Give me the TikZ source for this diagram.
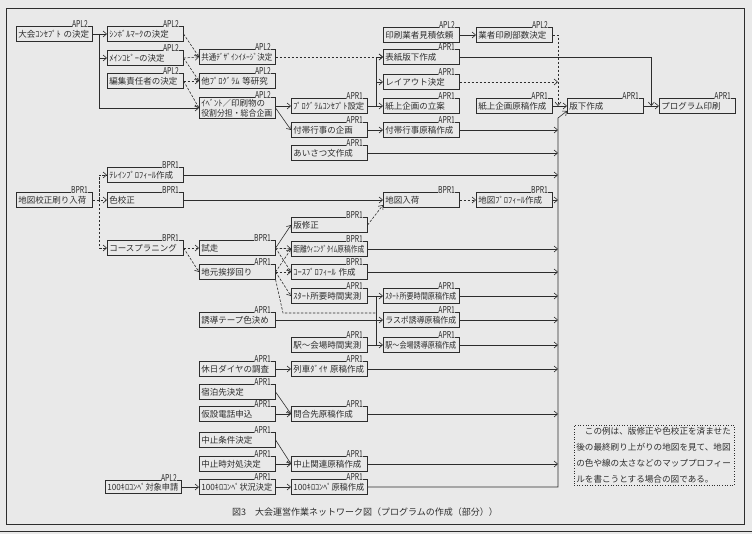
\documentclass[tikz,border=0pt]{standalone}
\usepackage{fontspec}
\setmainfont{Noto Sans CJK JP}
\usepackage{graphicx}
\usepackage{tikz}
\usetikzlibrary{arrows.meta}
\usetikzlibrary{calc}
\definecolor{bg}{RGB}{233,233,233}
\definecolor{ink}{RGB}{45,45,45}
\newsavebox\jobtext
\newcommand{\fitw}[1]{\sbox\jobtext{#1}\ifdim\wd\jobtext>71bp\pgfmathsetmacro\jobfac{71bp/\wd\jobtext}\scalebox{\jobfac}[1]{\usebox\jobtext}\else\usebox\jobtext\fi}

\begin{document}
\begin{tikzpicture}[x=1bp, y=-1bp, color=ink, line width=0.6bp,
    job/.style={draw, anchor=west, text width=72bp, align=left, inner xsep=2bp, inner ysep=1bp,
        minimum height=15bp, font=\fontsize{8.5bp}{9.5bp}\selectfont,
        label={[wk]north east:\scalebox{.72}[1]{#1}}},
    wk/.style={anchor=south east, xshift=-4bp, yshift=-1.8bp, fill=bg, inner sep=0.3bp,
        font=\fontsize{9.5bp}{9.5bp}\selectfont},
    arr/.style={-{Straight Barb[length=3.5bp,width=6bp]}},
    dep/.style={dash pattern=on 2.5bp off 1.5bp}]
    \useasboundingbox (0,0) rectangle (752,534);
    \fill[bg] (0,0) rectangle (752,534);
    \draw (6,8) rectangle (744,524);
    \draw[line width=0.8bp] (0,531) -- (752,531);

    % upper block: program planning
    \node[job=APL2] (concept) at (16,34) {\fitw{大会ｺﾝｾﾌﾟﾄ の決定}};
    \node[job=APL2] (symbol) at (107,34) {ｼﾝﾎﾞﾙﾏｰｸの決定};
    \node[job=APL2] (copy) at (107,58) {ﾒｲﾝｺﾋﾟｰの決定};
    \node[job=APL2] (editor) at (107,81) {編集責任者の決定};
    \node[job=APL2] (design) at (199,57) {\fitw{共通ﾃﾞｻﾞｲﾝｲﾒｰｼﾞ決定}};
    \node[job=APL2] (study) at (199,81) {他ﾌﾟﾛｸﾞﾗﾑ 等研究};
    \node[job=APL2, minimum height=21bp] (event) at (199,108) {ｲﾍﾞﾝﾄ／印刷物の\\\fitw{役割分担・総合企画}};
    \node[job=APR1] (pconcept) at (291,106) {\fitw{ﾌﾟﾛｸﾞﾗﾑｺﾝｾﾌﾟﾄ設定}};
    \node[job=APR1] (sideplan) at (291,130) {付帯行事の企画};
    \node[job=APR1] (greeting) at (291,153) {あいさつ文作成};
    \node[job=APL2] (quote) at (383,35) {印刷業者見積依頼};
    \node[job=APR1] (cover) at (383,57) {表紙版下作成};
    \node[job=APR1] (layout) at (383,82) {レイアウト決定};
    \node[job=APR1] (paperplan) at (383,106) {紙上企画の立案};
    \node[job=APR1] (sidetext) at (383,130) {付帯行事原稿作成};
    \node[job=APL2] (copies) at (476,35) {業者印刷部数決定};
    \node[job=APR1] (papertext) at (476,106) {紙上企画原稿作成};
    \node[job=APR1] (block) at (567,106) {版下作成};
    \node[job=APR1] (print) at (659,106) {プログラム印刷};

    % middle block: maps and course
    \node[job=BPR1] (proof) at (16,200) {地図校正刷り入荷};
    \node[job=BPR1] (terrain) at (107,175) {ﾃﾚｲﾝﾌﾟﾛﾌｨｰﾙ作成};
    \node[job=BPR1] (color) at (107,200) {色校正};
    \node[job=BPR1] (course) at (107,248) {コースプラニング};
    \node[job=BPR1] (trial) at (199,248) {試走};
    \node[job=APR1] (greet) at (199,272) {地元挨拶回り};
    \node[job=APR1] (tape) at (199,320) {誘導テープ色決め};
    \node[job=BPR1] (fix) at (291,225) {版修正};
    \node[job=BPR1] (wintime) at (291,249) {\fitw{距離ｳｨﾆﾝｸﾞﾀｲﾑ原稿作成}};
    \node[job=BPR1] (cprofile) at (291,272) {ｺｰｽﾌﾟﾛﾌｨｰﾙ 作成};
    \node[job=APR1] (startm) at (291,296) {\fitw{ｽﾀｰﾄ所要時間実測}};
    \node[job=APR1] (stationm) at (291,345) {\fitw{駅～会場時間実測}};
    \node[job=BPR1] (mapin) at (383,200) {地図入荷};
    \node[job=APR1] (startt) at (383,296) {\fitw{ｽﾀｰﾄ所要時間原稿作成}};
    \node[job=APR1] (lastt) at (383,320) {\fitw{ラスポ誘導原稿作成}};
    \node[job=APR1] (stationt) at (383,345) {\fitw{駅～会場誘導原稿作成}};
    \node[job=BPR1] (mapprof) at (476,200) {地図ﾌﾟﾛﾌｨｰﾙ作成};

    % lower block: information pages
    \node[job=APR1] (holiday) at (199,369) {休日ダイヤの調査};
    \node[job=APR1] (lodge) at (199,392) {宿泊先決定};
    \node[job=APR1] (phone) at (199,414) {仮設電話申込};
    \node[job=APR1] (stopcond) at (199,440) {中止条件決定};
    \node[job=APR1] (stopact) at (199,464) {中止時対処決定};
    \node[job=APL2, minimum height=13bp] (hkapply) at (105,487) {\fitw{100ｷﾛｺﾝﾍﾟ対象申請}};
    \node[job=APR1] (hkdecide) at (199,487) {\fitw{100ｷﾛｺﾝﾍﾟ状況決定}};
    \node[job=APR1] (train) at (291,369) {\fitw{列車ﾀﾞｲﾔ 原稿作成}};
    \node[job=APR1] (inquiry) at (291,414) {問合先原稿作成};
    \node[job=APR1] (stoptext) at (291,464) {中止関連原稿作成};
    \node[job=APR1] (hktext) at (291,487) {\fitw{100ｷﾛｺﾝﾍﾟ原稿作成}};

    \coordinate (cj) at (99,34);
    \coordinate (pj) at (376,106);
    \coordinate (bj) at (558,106);
    \coordinate (pj2) at ($(block.east)!.5!(print.west)$);
    \coordinate (bartop) at (558,118);
    \coordinate (mj) at (99,200);
    \coordinate (gj) at (283,313);
    \coordinate (sj) at (376,296);

    % upper connectors
    \draw[arr] (concept) -- (symbol);
    \draw[arr] (cj) |- (copy);
    \draw[arr] (cj) |- (event);
    \draw[dep,arr] (symbol.east) -- (design.west);
    \draw[dep,arr] (copy.east) -- (design.west);
    \draw[dep,arr] (copy.east) -- (study.west);
    \draw[dep,arr] (editor) -- (study);
    \draw[dep,arr] (editor.east) -- (event.west);
    \draw[dep,arr] (design) -- (cover);
    \draw[arr] (event.east |- pconcept.west) -- (pconcept.west);
    \draw[arr] (event.east) -- (sideplan.west);
    \draw[arr] (pconcept) -- (paperplan);
    \draw[arr] (pj) |- (layout);
    \draw[arr] (pj) |- (cover);
    \draw[arr] (sideplan) -- (sidetext);
    \draw[arr] (quote) -- (copies);
    \draw[dep,arr] (copies) -| (bj);
    \draw[dep,arr] (layout) -- (layout -| bj);
    \draw[arr] (papertext) -- (block);
    \draw[arr] (block) -- (print);
    \draw[arr] (cover) -| (pj2);

    % everything else runs into the bar before the block copy
    \draw[arr] (hktext) -| (bartop) -- ($(block.west)+(0,5)$);
    \draw[arr] (sidetext) -- (sidetext -| bartop);
    \draw[arr] (greeting) -- (greeting -| bartop);
    \draw[arr] (terrain) -- (terrain -| bartop);
    \draw[arr] (mapprof) -- (mapprof -| bartop);
    \draw[arr] (wintime) -- (wintime -| bartop);
    \draw[arr] (cprofile) -- (cprofile -| bartop);
    \draw[arr] (startt) -- (startt -| bartop);
    \draw[arr] (lastt) -- (lastt -| bartop);
    \draw[arr] (stationt) -- (stationt -| bartop);
    \draw[arr] (train) -- (train -| bartop);
    \draw[arr] (inquiry) -- (inquiry -| bartop);
    \draw[arr] (stoptext) -- (stoptext -| bartop);

    % middle connectors
    \draw[dep,arr] (proof) -- (color);
    \draw[dep,arr] (mj) |- (terrain);
    \draw[dep,arr] (mj) |- (course);
    \draw[arr] (color) -- (mapin);
    \draw[dep,arr] (mapin) -- (mapprof);
    \draw[dep,arr] (fix.east) -- ($(mapin.west)+(0,5)$);
    \draw[dep,arr] (course) -- (trial);
    \draw[dep,arr] (course.east) -- (greet.west);
    \draw[arr] (trial.east) -- (fix.west);
    \draw[dep,arr] (trial) -- (wintime);
    \draw[dep,arr] (trial.east) -- (cprofile.west);
    \draw[dep,arr] (greet.east) -- (wintime.west);
    \draw[dep,arr] (greet) -- (cprofile);
    \draw[dep,arr] (greet.east) -- (startm.west);
    \draw[dep] (greet.south east) -- (gj) -- (gj -| sj);
    \draw (sj) -- (sj |- stationt);
    \draw[arr] (startm) -- (startt);
    \draw[arr] (tape) -- (lastt);
    \draw[arr] (stationm) -- (stationt);

    % lower connectors
    \draw[arr] (holiday) -- (train);
    \draw[arr] (lodge.east) -- (inquiry.west);
    \draw[arr] (phone) -- (inquiry);
    \draw[arr] (stopcond.east) -- (stoptext.west);
    \draw[arr] (stopact) -- (stoptext);
    \draw[arr] (hkapply) -- (hkdecide);
    \draw[arr] (hkdecide) -- (hktext);

    \node[draw, dotted, anchor=north west, text width=156bp, align=left, inner sep=2bp,
        font=\fontsize{8.6bp}{16bp}\selectfont] (note) at (574,425)
        {　この例は、版修正や色校正を済ませた\\後の最終刷り上がりの地図を見て、地図\\の色や線の太さなどのマッププロフィー\\ルを書こうとする場合の図である。};
    \node[font=\fontsize{9bp}{10bp}\selectfont] (caption) at (365,512)
        {図3　大会運営作業ネットワーク図（プログラムの作成（部分））};
\end{tikzpicture}
\end{document}
